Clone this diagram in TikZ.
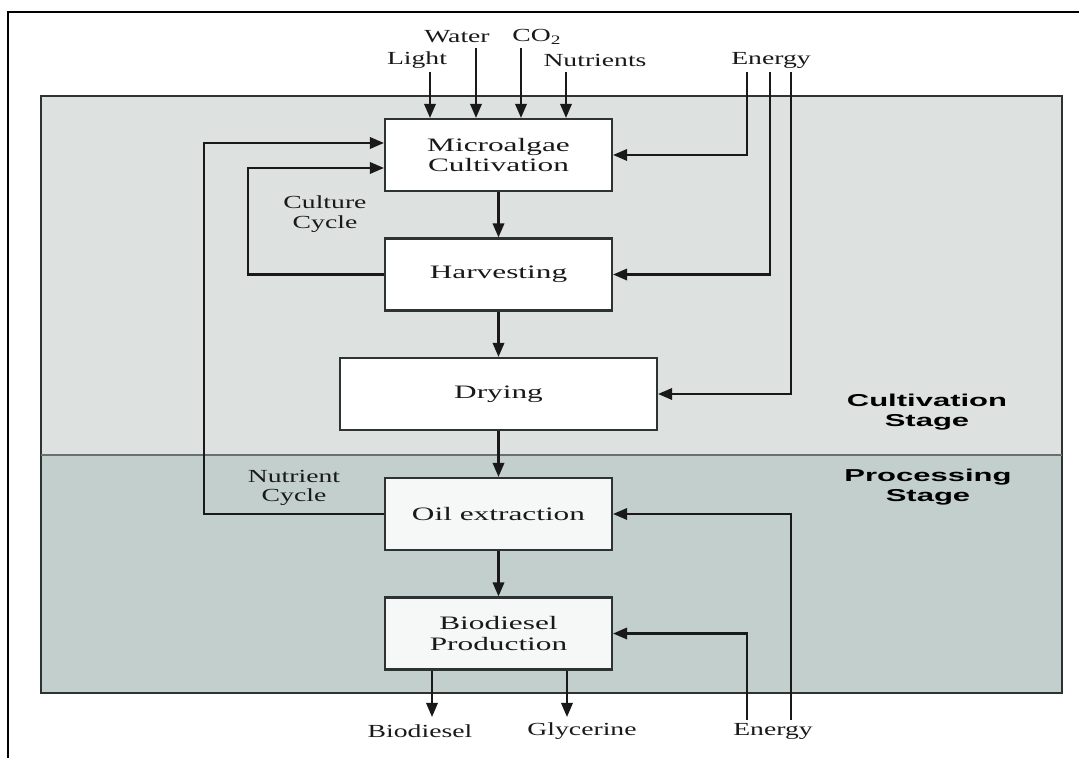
\documentclass[tikz,border=0pt]{standalone}
\usepackage{fontspec}
\setmainfont{Liberation Serif}
\newfontfamily\labelfont[FakeStretch=1.5]{Liberation Serif}
\newfontfamily\boxfont[FakeStretch=1.65]{Liberation Serif}
\newfontfamily\stagefont[FakeStretch=1.8]{Liberation Sans}
\usetikzlibrary{arrows.meta, calc}
\definecolor{cultbg}{RGB}{221, 226, 225}
\definecolor{procbg}{RGB}{195, 207, 205}
\definecolor{procbox}{RGB}{246, 248, 248}
\definecolor{edge}{RGB}{45, 50, 50}
\definecolor{ink}{RGB}{25, 25, 25}

\tikzset{
    stepbox/.style={draw=edge, line width=1.2pt, fill=white, text=ink,
        minimum width=4.54cm, minimum height=1.44cm, inner sep=0pt,
        align=center, font=\boxfont\fontsize{10.8}{11.5}\selectfont},
    lbl/.style={inner sep=0pt, text=ink, align=center,
        font=\labelfont\fontsize{10.5}{11.2}\selectfont},
    stagelbl/.style={inner sep=0pt, text=black, align=center,
        font=\stagefont\bfseries\fontsize{9.8}{11.4}\selectfont},
    flow/.style={draw=ink, line width=1.25pt, -{Triangle[length=8pt, width=6.5pt]}}
}

\begin{document}
\begin{tikzpicture}
    \useasboundingbox (0,0) rectangle (21.58,15.16);

    % outer frame
    \draw[line width=1.4pt] (21.58,14.92) -- (0.16,14.92) -- (0.16,0);

    % the two stages
    \draw[fill=cultbg, draw=edge, line width=1.2pt] (0.82,13.24) rectangle (21.24,6.06);
    \draw[fill=procbg, draw=edge, line width=1.2pt] (0.82,6.06) rectangle (21.24,1.30);
    \draw[edge!70, line width=0.8pt] (0.82,6.06) -- (21.24,6.06);

    \node[stagelbl] (cultstage) at (18.54,6.92) {Cultivation\\Stage};
    \node[stagelbl] (procstage) at (18.56,5.42) {Processing\\Stage};

    % process steps
    \node[stepbox] (cult) at (9.97,12.06) {Microalgae\\Cultivation};
    \node[stepbox] (harv) at (9.97,9.67) {Harvesting};
    \node[stepbox, minimum width=6.34cm] (dry) at (9.97,7.28) {Drying};
    \node[stepbox, fill=procbox] (oil) at (9.97,4.88) {Oil extraction};
    \node[stepbox, fill=procbox] (bio) at (9.97,2.49) {Biodiesel\\Production};

    \draw[flow] (cult) -- (harv);
    \draw[flow] (harv) -- (dry);
    \draw[flow] (dry) -- (oil);
    \draw[flow] (oil) -- (bio);

    % inputs to cultivation
    \foreach \nm/\ax/\ay/\lx/\ly/\txt in {
        light/8.60/13.72/8.34/13.96/Light,
        water/9.52/14.20/9.14/14.42/Water,
        co/10.42/14.20/10.74/14.42/{CO\textsubscript{2}},
        nutr/11.32/13.72/11.90/13.96/Nutrients} {
        \node[lbl] (\nm) at (\lx,\ly) {\txt};
        \coordinate (\nm in) at (\ax,\ay);
        \draw[flow] (\nm in) -- (\nm in |- cult.north);
    }

    % energy from the top
    \node[lbl] (entop) at (15.42,13.96) {Energy};
    \coordinate (enA) at (14.94,13.72);
    \coordinate (enB) at (15.40,13.72);
    \coordinate (enC) at (15.82,13.72);
    \draw[flow] (enA) |- (cult.east);
    \draw[flow] (enB) |- (harv.east);
    \draw[flow] (enC) |- (dry.east);

    % recycling loops
    \coordinate (cultloop) at (4.96,11.80);
    \coordinate (nutloop) at (4.08,12.30);
    \draw[flow] (harv.west) -| (cultloop) -- (cultloop -| cult.west);
    \draw[flow] (oil.west) -| (nutloop) -- (nutloop -| cult.west);
    \node[lbl] (cultcycle) at (6.50,10.88) {Culture\\Cycle};
    \node[lbl] (nutcycle) at (5.88,5.40) {Nutrient\\Cycle};

    % energy from the bottom
    \node[lbl] (enbot) at (15.46,0.54) {Energy};
    \coordinate (enD) at (14.94,0.76);
    \coordinate (enE) at (15.82,0.76);
    \draw[flow] (enD) |- (bio.east);
    \draw[flow] (enE) |- (oil.east);

    % products
    \node[lbl] (biodiesel) at (8.40,0.54) {Biodiesel};
    \node[lbl] (glycerine) at (11.64,0.54) {Glycerine};
    \coordinate (outbio) at (8.64,0.82);
    \coordinate (outgly) at (11.34,0.82);
    \draw[flow] (bio.south -| outbio) -- (outbio);
    \draw[flow] (bio.south -| outgly) -- (outgly);
\end{tikzpicture}
\end{document}
